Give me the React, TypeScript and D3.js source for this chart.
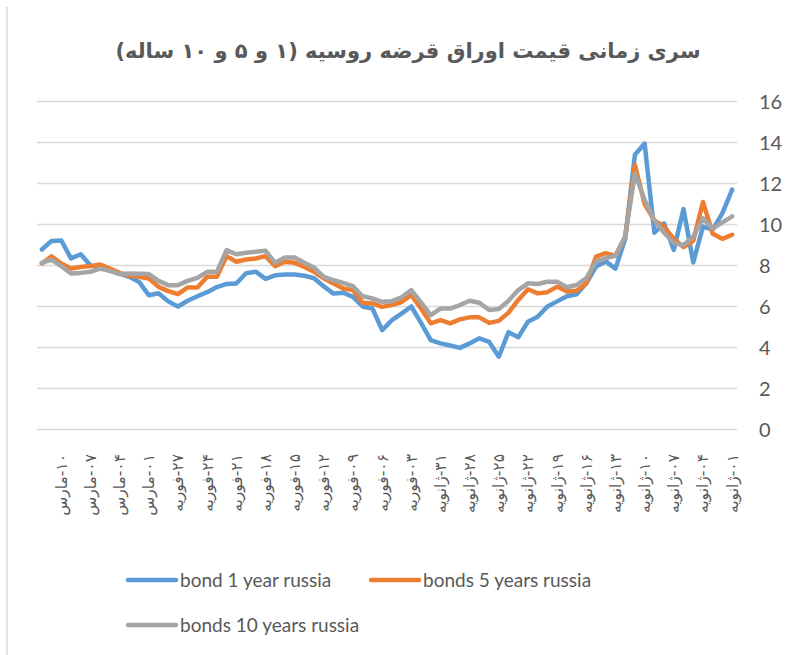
import * as d3 from "d3";

// values in display order, left (Mar 12) to right (Jan 1)
const bond1y = [
  8.78, 9.2, 9.22, 8.35, 8.55, 8.0, 7.9, 7.75, 7.6, 7.45, 7.2, 6.55, 6.65, 6.25, 6.0, 6.28, 6.5, 6.7,
  6.95, 7.1, 7.12, 7.62, 7.7, 7.35, 7.52, 7.56, 7.56, 7.5, 7.38, 6.98, 6.63, 6.67, 6.47, 6.0, 5.9, 4.85,
  5.33, 5.65, 6.0, 5.2, 4.36, 4.2, 4.1, 3.98, 4.2, 4.45, 4.28, 3.55, 4.75, 4.5, 5.26, 5.5, 6.0, 6.25,
  6.5, 6.6, 7.13, 7.95, 8.2, 7.85, 9.3, 13.4, 13.95, 9.6, 10.05, 8.76, 10.75, 8.15, 9.9, 9.75, 10.55, 11.7,
];
const bond5y = [
  8.1, 8.45, 8.1, 7.85, 7.93, 7.97, 8.05, 7.85, 7.64, 7.5, 7.45, 7.37, 6.96, 6.75, 6.6, 6.93, 6.93, 7.45,
  7.45, 8.46, 8.18, 8.29, 8.34, 8.46, 7.97, 8.18, 8.13, 7.93, 7.69, 7.37, 7.12, 6.88, 6.8, 6.18, 6.15, 5.98,
  6.07, 6.22, 6.56, 5.9, 5.18, 5.34, 5.18, 5.37, 5.47, 5.47, 5.2, 5.3, 5.7, 6.32, 6.84, 6.64, 6.7, 6.97,
  6.73, 6.77, 7.13, 8.43, 8.6, 8.47, 9.41, 12.9, 11.0, 10.2, 9.9, 9.3, 8.9, 9.2, 11.1, 9.55, 9.3, 9.5,
];
const bond10y = [
  8.13, 8.29, 7.97, 7.61, 7.64, 7.69, 7.85, 7.74, 7.58, 7.61, 7.6, 7.58, 7.25, 7.04, 7.04, 7.25, 7.4, 7.69,
  7.69, 8.75, 8.55, 8.62, 8.67, 8.72, 8.13, 8.39, 8.39, 8.13, 7.9, 7.45, 7.28, 7.15, 6.99, 6.5, 6.39, 6.23,
  6.26, 6.45, 6.8, 6.2, 5.58, 5.9, 5.9, 6.07, 6.28, 6.18, 5.83, 5.88, 6.28, 6.8, 7.13, 7.1, 7.21, 7.21,
  6.94, 7.05, 7.38, 8.19, 8.36, 8.47, 9.41, 12.5, 11.2, 10.2, 9.6, 9.1, 9.0, 9.4, 10.3, 9.8, 10.1, 10.4,
];

// every third category carries a label, starting at the third one
const tickLabels = [
  "۱۰-مارس", "۰۷-مارس", "۰۴-مارس", "۰۱-مارس",
  "۲۷-فوریه", "۲۴-فوریه", "۲۱-فوریه", "۱۸-فوریه", "۱۵-فوریه", "۱۲-فوریه", "۰۹-فوریه", "۰۶-فوریه", "۰۳-فوریه",
  "۳۱-ژانویه", "۲۸-ژانویه", "۲۵-ژانویه", "۲۲-ژانویه", "۱۹-ژانویه", "۱۶-ژانویه", "۱۳-ژانویه", "۱۰-ژانویه",
  "۰۷-ژانویه", "۰۴-ژانویه", "۰۱-ژانویه",
];
const yTicks = [0, 2, 4, 6, 8, 10, 12, 14, 16];

const series = [
  { name: "bond 1 year russia", values: bond1y, color: "#5B9BD5" },
  { name: "bonds 5 years russia", values: bond5y, color: "#ED7D31" },
  { name: "bonds 10 years russia", values: bond10y, color: "#A5A5A5" },
];

const title = "سری زمانی قیمت اوراق قرضه روسیه  (۱ و ۵ و ۱۰ ساله)";

export default function App() {
  const width = 790;
  const height = 655;
  const left = 37;
  const right = 737;
  const top = 101.5;
  const bottom = 429.5;

  const x = d3
    .scalePoint<number>()
    .domain(d3.range(bond1y.length))
    .range([left, right])
    .padding(0.5);
  const y = d3.scaleLinear([0, 16], [bottom, top]);

  const line = d3
    .line<number>()
    .x((d, i) => x(i)!)
    .y((d) => y(d));

  const gray = "#595959";
  const latin = "Lato, 'Open Sans', sans-serif";

  const legend = [
    { s: series[0], lx: 128, ly: 580 },
    { s: series[1], lx: 371, ly: 580 },
    { s: series[2], lx: 128, ly: 625 },
  ];

  return (
    <svg
      width={width}
      height={height}
      style={{ position: "absolute", left: 0, top: 0, background: "#fff" }}
    >
      <line x1={7} x2={7} y1={7} y2={height} stroke="#D9D9D9" strokeWidth={1.5} />

      <text
        x={408}
        y={52}
        textAnchor="middle"
        dominantBaseline="middle"
        fontFamily="'DejaVu Sans', sans-serif"
        fontWeight="bold"
        fontSize={21}
        fill={gray}
        direction="rtl"
        style={{ direction: "rtl", unicodeBidi: "embed" }}
      >
        {title}
      </text>

      {yTicks.map((t) => (
        <g key={t}>
          <line x1={left} x2={right} y1={y(t)} y2={y(t)} stroke="#D9D9D9" strokeWidth={1.3} />
          <text
            x={759}
            y={y(t)}
            dy="0.35em"
            fontFamily={latin}
            fontSize={20}
            fill={gray}
          >
            {t}
          </text>
        </g>
      ))}

      {tickLabels.map((lab, k) => {
        const cx = x(2 + 3 * k)!;
        return (
          <text
            key={k}
            transform={`translate(${cx},454) rotate(-90)`}
            dy="0.35em"
            textAnchor="start"
            direction="rtl"
            style={{ direction: "rtl", unicodeBidi: "embed" }}
            fontFamily="'DejaVu Sans', sans-serif"
            fontSize={15.5}
            fill={gray}
          >
            {lab}
          </text>
        );
      })}

      {series.map((s) => (
        <path
          key={s.name}
          d={line(s.values)!}
          fill="none"
          stroke={s.color}
          strokeWidth={4.5}
          strokeLinejoin="round"
          strokeLinecap="round"
        />
      ))}

      {legend.map(({ s, lx, ly }) => (
        <g key={s.name}>
          <line
            x1={lx}
            x2={lx + 48}
            y1={ly}
            y2={ly}
            stroke={s.color}
            strokeWidth={4.5}
            strokeLinecap="round"
          />
          <text x={lx + 52} y={ly} dy="0.35em" fontFamily={latin} fontSize={19} fill={gray}>
            {s.name}
          </text>
        </g>
      ))}
    </svg>
  );
}
